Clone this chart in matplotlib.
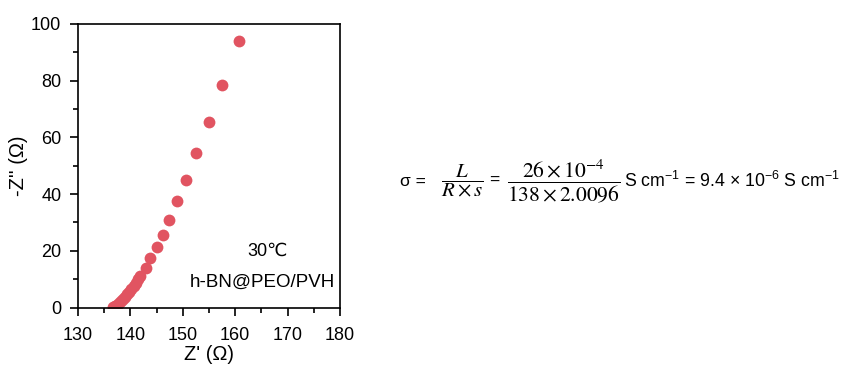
import matplotlib
matplotlib.use("Agg")
import matplotlib.pyplot as plt
from matplotlib.ticker import MultipleLocator

plt.rcParams['font.family'] = ['Liberation Sans', 'DejaVu Sans', 'Noto Sans CJK SC']
plt.rcParams['mathtext.fontset'] = 'custom'
plt.rcParams['mathtext.rm'] = 'Liberation Sans'
plt.rcParams['mathtext.it'] = 'Liberation Sans:italic'

# Nyquist data
z_re = [136.6, 137.0, 137.4, 137.8, 138.2, 138.6, 139.0, 139.4, 139.8, 140.2,
        140.6, 141.0, 141.4, 141.9, 142.9, 143.8, 145.0, 146.3, 147.4, 148.9,
        150.7, 152.6, 155.0, 157.5, 160.7]
z_im = [0.2, 0.5, 1.0, 1.6, 2.3, 3.0, 3.8, 4.7, 5.6, 6.6,
        7.7, 8.8, 9.9, 11.2, 14.0, 17.4, 21.2, 25.7, 30.9, 37.5,
        45.1, 54.6, 65.4, 78.5, 94.1]

W, H = 846, 365
fig = plt.figure(figsize=(W / 100, H / 100), dpi=100)
ax = fig.add_axes([78 / W, 1 - 307.5 / H, (340 - 78) / W, (307.5 - 24) / H])

ax.plot(z_re, z_im, 'o', color='#E15461', markersize=8.5, markeredgewidth=0)
ax.set_xlim(130, 180)
ax.set_ylim(0, 100)
ax.xaxis.set_major_locator(MultipleLocator(10))
ax.xaxis.set_minor_locator(MultipleLocator(5))
ax.yaxis.set_major_locator(MultipleLocator(20))
ax.yaxis.set_minor_locator(MultipleLocator(10))
ax.tick_params(which='major', direction='out', length=6, width=1.2, labelsize=13)
ax.tick_params(which='minor', direction='out', length=3.5, width=1.2)
ax.tick_params(axis='x', pad=8)
ax.tick_params(axis='y', pad=6)
for s in ax.spines.values():
    s.set_linewidth(1.2)
ax.set_xlabel("Z' (\u03a9)", fontsize=14.5, labelpad=1)
ax.set_ylabel("-Z'' (\u03a9)", fontsize=14.5, labelpad=2)

ax.text(0.725, 0.2, "30\u2103", transform=ax.transAxes, ha='center', va='center', fontsize=13)
ax.text(0.98, 0.09, "h-BN@PEO/PVH", transform=ax.transAxes, ha='right', va='center', fontsize=13.5)

# conductivity equation
def px(x, y):
    return x / W, 1 - y / H

ym = 181
fig.text(*px(400, ym), "\u03c3 =", fontsize=12.5, va='center', ha='left')
fig.text(*px(462, ym), r"$\dfrac{L}{R\times s}$", fontsize=15, va='center', ha='center',
         math_fontfamily='stix')
fig.text(*px(494, ym - 1), "=", fontsize=12.5, va='center', ha='center')
fig.text(*px(564, ym), r"$\dfrac{26\times10^{-4}}{138\times2.0096}$", fontsize=15.5,
         va='center', ha='center', math_fontfamily='stix')
fig.text(*px(624, ym), r"S cm$^{\mathregular{-1}}$ = 9.4 $\times$ 10$^{\mathregular{-6}}$ S cm$^{\mathregular{-1}}$",
         fontsize=12.8, va='center', ha='left')

fig.savefig("out.png", dpi=100)
